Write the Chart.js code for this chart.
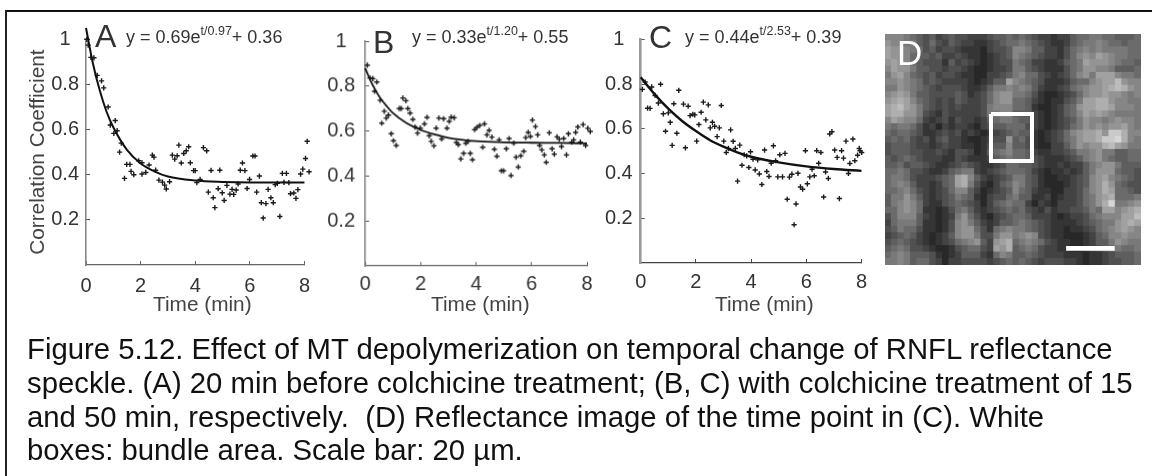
<!DOCTYPE html>
<html><head><meta charset="utf-8">
<style>
html,body{margin:0;padding:0;background:#fff;width:1152px;height:476px;overflow:hidden}
#wrap{position:absolute;left:0;top:0;width:1152px;height:476px;filter:blur(0.45px);font-family:"Liberation Sans",Arial,sans-serif}
canvas{position:absolute;display:block}
#cd{background:#555}
.t{position:absolute;white-space:pre;line-height:1;color:#333}
.frameT{position:absolute;left:5px;top:10px;right:0;height:2px;background:#111}
.frameL{position:absolute;left:5px;top:10px;bottom:0;width:2px;background:#222}
sup{font-size:12.5px;position:relative;top:-8px;vertical-align:baseline;line-height:0}
</style></head><body>
<div id="wrap">
<div class="frameT"></div><div class="frameL"></div>
<canvas id="ca"></canvas><canvas id="cb"></canvas><canvas id="cc"></canvas><canvas id="cd"></canvas>
</div>
<script src="https://cdn.jsdelivr.net/npm/chart.js@4/dist/chart.umd.min.js"></script>
<script>
// ---- tick labels
const xTickValues=[0,2,4,6,8];
const yTickValues=[0.2,0.4,0.6,0.8,1];
const axisTitleY="Correlation Coefficient";
const axisTitleX="Time (min)";
// ---- panel A
const aT=[.03,.08,.18,.29,.41,.57,.65,.81,1.07,.89,1.02,1.14,1.29,1.23,1.41,1.49,1.61,1.65,1.75,1.93,2.05,2.05,2.19,2.31,2.43,2.49,2.55,2.67,2.8,2.88,2.94,3.06,3.16,3.25,3.34,3.4,3.49,3.58,3.67,3.76,3.82,3.94,4,4.06,4.18,4.3,4.42,4.48,4.58,4.66,4.72,4.84,4.9,4.99,5.06,5.16,5.27,5.35,5.41,5.5,5.57,5.65,5.73,5.82,5.9,5.99,6.11,6.19,6.25,6.35,6.42,6.49,6.59,6.67,6.77,6.86,6.93,7.01,7.1,7.19,7.34,7.25,7.43,7.49,7.61,7.69,7.76,7.86,7.94,8.04,8.1,8.17];
const aV=[1,.974,.92,.918,.84,.816,.785,.7,.64,.62,.583,.595,.54,.5,.384,.446,.446,.415,.4,.462,.453,.403,.41,.443,.487,.478,.42,.376,.367,.354,.337,.369,.487,.469,.484,.531,.452,.494,.506,.524,.453,.418,.418,.365,.379,.52,.506,.323,.419,.298,.254,.338,.42,.32,.286,.353,.314,.335,.313,.332,.359,.42,.452,.418,.339,.379,.483,.483,.323,.394,.276,.208,.272,.335,.298,.276,.356,.362,.215,.406,.406,.366,.365,.316,.319,.295,.334,.403,.425,.472,.548,.413];
const aCurveT=[0,.25,.5,.75,1,1.5,2,2.5,3,4,5,6,7,8];
const aCurveV=[1.05,.895,.775,.68,.61,.51,.45,.415,.392,.374,.368,.366,.366,.366];
// ---- panel B
const bT=[.08,.18,.28,.42,.34,.54,.6,.69,.76,.84,.94,1.02,1.12,1.23,1.3,1.36,1.47,1.54,1.62,1.72,1.8,1.89,1.99,2.14,2.23,2.31,2.38,2.48,2.56,2.66,2.76,2.83,2.95,3.03,3.1,3.21,3.29,3.36,3.45,3.55,3.63,3.71,3.79,3.87,3.95,4.03,4.13,4.24,4.3,4.39,4.47,4.57,4.66,4.75,4.83,4.91,4.99,5.09,5.19,5.26,5.36,5.44,5.52,5.61,5.72,5.79,5.88,5.96,6.03,6.14,6.22,6.29,6.37,6.46,6.53,6.64,6.74,6.82,6.92,7,7.08,7.16,7.26,7.33,7.45,7.52,7.59,7.67,7.76,7.86,7.95,8.03,8.12];
const bV=[.893,.836,.833,.818,.777,.737,.635,.688,.658,.671,.588,.557,.536,.7,.7,.747,.735,.7,.68,.652,.618,.591,.613,.632,.661,.579,.554,.534,.613,.658,.565,.655,.613,.643,.662,.659,.549,.539,.476,.501,.546,.554,.501,.472,.606,.616,.625,.528,.632,.583,.603,.573,.519,.488,.561,.423,.423,.521,.567,.402,.546,.484,.44,.49,.51,.571,.594,.576,.649,.62,.583,.536,.516,.494,.461,.592,.521,.497,.574,.564,.531,.567,.494,.588,.551,.561,.594,.618,.551,.629,.536,.612,.598];
const bCurveT=[0,.25,.5,.75,1,1.5,2,2.5,3,4,5,6,7,8];
const bCurveV=[.88,.81,.755,.715,.68,.635,.605,.585,.57,.555,.55,.548,.547,.545];
// ---- panel C
const cT=[.06,.16,.25,.34,.4,.52,.64,.72,.82,.9,1,1.07,1.14,1.2,1.31,1.38,1.55,1.62,1.72,1.79,1.89,1.96,2.03,2.11,2.19,2.27,2.36,2.45,2.52,2.6,2.68,2.77,2.85,2.92,3.01,3.1,3.18,3.26,3.35,3.43,3.51,3.59,3.67,3.75,3.84,3.92,3.98,4.07,4.15,4.24,4.3,4.39,4.49,4.57,4.65,4.73,4.81,4.89,4.97,5.04,5.14,5.23,5.31,5.39,5.48,5.56,5.63,5.7,5.79,5.87,5.97,6.04,6.13,6.21,6.29,6.38,6.45,6.53,6.63,6.7,6.8,6.85,6.93,7.03,7.12,7.2,7.28,7.35,7.44,7.53,7.58,7.69,7.76,7.86,7.92,7.95,8.01];
const cV=[.776,.809,.692,.691,.787,.749,.715,.799,.667,.589,.671,.629,.526,.712,.58,.772,.71,.515,.701,.659,.665,.662,.545,.619,.674,.719,.64,.707,.604,.629,.611,.565,.604,.704,.545,.494,.512,.595,.544,.512,.366,.527,.437,.484,.479,.427,.497,.464,.416,.461,.398,.351,.505,.409,.387,.446,.524,.457,.385,.484,.385,.49,.285,.384,.397,.171,.264,.401,.34,.33,.502,.354,.385,.419,.39,.502,.446,.494,.295,.407,.378,.577,.587,.505,.472,.288,.502,.469,.545,.4,.445,.554,.457,.482,.512,.502,.494];
const cCurveT=[0,.5,1,1.5,2,2.5,3,3.5,4,5,6,7,8];
const cCurveV=[.83,.755,.69,.635,.59,.55,.52,.495,.475,.45,.432,.42,.412];
// ---- panel D reflectance image: rows of grey levels (hex digit per cell)
const imageRows=[
"8887654534544333455656543323356677665556",
"9887754643543322345667654322356778766566",
"a998764534432221344588755332467878777766",
"a99865545334322123458765433246898a987766",
"9a98654442534321234476533223567a99987665",
"8a99755443443211233477543222467998875556",
"79a865453443221133457866432346897aaa8776",
"8898764543333212355a87654222356689aac988",
"7798765434443223577878753223467899abcb98",
"89a9755444454234689977642112346899a99878",
"9aba865434354334689966532122457aabb98877",
"abca975434343334788866521123569aabba8887",
"abb99743243333347788555321235 68a9a987777".replace(" ",""),
"8a98863234243323567765532123457988789887",
"7677642313233213455666432123467989899a87",
"6566542234342321234565521234689aab9ddb88",
"5656434245332112344956421234679aabddeb87",
"4555433234332212455855421133579899bca977",
"4555443343244312567866532233457789775566",
"5456543332243222356766543222345789765566",
"5564554322345432234665543223233578997555",
"6676443223567732345666532122323579996554",
"67764333456ab853234577542112234589a87654",
"67875332356ab742135687542111234589b96544",
"6678643234688531234586532211334689ba6654",
"5779753234576521344675522312334679ab6667",
"5789863224565431356766313213334679be7789",
"6689862212467532345656432423344576aa89ab",
"4688853212379642134566533321233467888aac",
"3677752212489753235567654322223456779aba",
"4576642212489964267877654322122346789a98",
"3456532123589974479978984322111235688988",
"456543212346789539ab67876432211235579877",
"56764432112456643a9b56764332211234567667",
"6787555421235553268755654333222122345556",
"7787566431334444345656543444332122344556"
];
const boxX=[16.56,22.97,22.97,16.56,16.56];
const boxY=[12.46,12.46,19.78,19.78,12.46];
const barX=[28.3,35.9];
const barY=[33.4,33.4];
// ---- text
const captionLines=[
"Figure 5.12. Effect of MT depolymerization on temporal change of RNFL reflectance",
"speckle. (A) 20 min before colchicine treatment; (B, C) with colchicine treatment of 15",
"and 50 min, respectively.  (D) Reflectance image of the time point in (C). White",
"boxes: bundle area. Scale bar: 20 µm."];

const wrap=document.getElementById('wrap');
function text(html,left,baseline,size,color,extra){
  const d=document.createElement('div');d.className='t';d.innerHTML=html;
  d.style.left=left+'px';d.style.fontSize=size+'px';d.style.color=color||'#333';
  d.style.top=(baseline-size*0.905-(1-1.117)*size/2)+'px';
  if(extra)Object.assign(d.style,extra);
  wrap.appendChild(d);return d;
}
const zip=(xs,ys)=>xs.map((x,i)=>({x,y:ys[i]}));
function panel(o){
  const cw=o.right+16-o.cx, ch=o.bottom+42;
  const el=document.getElementById(o.id);
  el.style.left=o.cx+'px';el.style.top='0px';el.width=cw;el.height=ch;
  el.style.width=cw+'px';el.style.height=ch+'px';
  new Chart(el,{type:'scatter',
    data:{datasets:[
      {type:'line',data:zip(o.ct,o.cv),borderColor:'#111',borderWidth:o.lw,pointRadius:0,cubicInterpolationMode:'monotone',clip:false,order:1},
      {data:zip(o.t,o.v),pointStyle:'cross',pointRadius:2.6,pointBorderWidth:1.4,borderColor:'#1a1a1a',backgroundColor:'#1a1a1a',clip:false,order:2}
    ]},
    options:{responsive:false,animation:false,events:[],
      layout:{padding:{left:0,top:o.top,right:cw-(o.right-o.cx),bottom:ch-o.bottom-40}},
      plugins:{legend:{display:false},tooltip:{enabled:false}},
      scales:{
        x:{type:'linear',min:0,max:8,
          afterBuildTicks:s=>{s.ticks=xTickValues.map(value=>({value}));},
          afterFit:s=>{s.height=40;},
          border:{color:o.xc,width:o.xw},
          grid:{drawOnChartArea:false,tickLength:-4,tickColor:o.xc},
          ticks:{autoSkip:false,maxRotation:0,padding:o.xpad,color:'#333',font:{family:'"Liberation Sans"',size:o.fs},callback:v=>String(v)}},
        y:{type:'linear',min:0,max:1,
          afterBuildTicks:s=>{s.ticks=yTickValues.map(value=>({value}));},
          afterFit:s=>{s.width=o.left-o.cx;},
          border:{color:o.yc,width:o.yw},
          grid:{drawOnChartArea:false,tickLength:-4,tickColor:'#555'},
          title:o.ytitle?{display:true,text:axisTitleY,color:'#444',padding:{top:0,bottom:0},font:{family:'"Liberation Sans"',size:20.8}}:{display:false},
          ticks:{autoSkip:false,crossAlign:'center',padding:o.ypad,color:'#333',font:{family:'"Liberation Sans"',size:o.fs},callback:v=>String(v)}}
      }}});
}
panel({id:'ca',cx:26,left:86,right:307.3,top:39.3,bottom:265,t:aT,v:aV,ct:aCurveT,cv:aCurveV,lw:2,xc:'#666',xw:1.2,yc:'#888',yw:1.6,xpad:13,ypad:11,fs:20,ytitle:true});
panel({id:'cb',cx:320,left:365,right:586.7,top:41,bottom:265.7,t:bT,v:bV,ct:bCurveT,cv:bCurveV,lw:1.8,xc:'#666',xw:1.2,yc:'#888',yw:1.6,xpad:10,ypad:14,fs:20});
panel({id:'cc',cx:600,left:640.7,right:862.3,top:39.3,bottom:263.3,t:cT,v:cV,ct:cCurveT,cv:cCurveV,lw:2.4,xc:'#444',xw:1.2,yc:'#999',yw:2.6,xpad:11,ypad:12,fs:20});

// panel D as a chart of square cells
(function(){
  const el=document.getElementById('cd');
  const L=885,T=34,W=256,H=231;
  el.style.left=L+'px';el.style.top=T+'px';el.width=W;el.height=H;el.style.width=W+'px';el.style.height=H+'px';
  const cells=[],colors=[];
  imageRows.forEach((row,r)=>{[...row].forEach((ch,c)=>{
    cells.push({x:c+.5,y:r+.5});
    const g=Math.round(26+parseInt(ch,16)*13.5);
    colors.push(`rgb(${g},${g},${g})`);
  });});
  new Chart(el,{type:'scatter',data:{datasets:[
    {data:zip(boxX,boxY),type:'line',borderColor:'#fff',borderWidth:4,pointRadius:0,tension:0,borderJoinStyle:'miter',order:1},
    {data:zip(barX,barY),type:'line',borderColor:'#fff',borderWidth:4.7,pointRadius:0,tension:0,order:1},
    {data:cells,pointStyle:'rect',pointRadius:5.3,pointBorderWidth:0,borderWidth:0,backgroundColor:colors,pointBackgroundColor:colors,order:2}
  ]},options:{responsive:false,animation:false,events:[],layout:{padding:0,autoPadding:false},
    plugins:{legend:{display:false},tooltip:{enabled:false}},
    scales:{x:{type:'linear',display:false,min:0,max:imageRows[0].length},
            y:{type:'linear',display:false,min:0,max:imageRows.length,reverse:true}}}});
})();

// overlay text
text('A',95,47,32,'#333');
text('B',373,53,32,'#333');
text('C',649,48,32,'#333');
text('D',897,65,35,'#fff');
text('y = 0.69e<sup>t/0.97</sup>+ 0.36',126,43,18,'#333');
text('y = 0.33e<sup>t/1.20</sup>+ 0.55',412,43,18,'#333');
text('y = 0.44e<sup>t/2.53</sup>+ 0.39',685,43,18,'#333');
text(axisTitleX,153,311.5,20.8,'#444');
text(axisTitleX,431,311.5,20.8,'#444');
text(axisTitleX,715,311.5,20.8,'#444');
captionLines.forEach((s,i)=>text(s,27,359+i*33.7,29.3,'#111'));
</script>
</body></html>
